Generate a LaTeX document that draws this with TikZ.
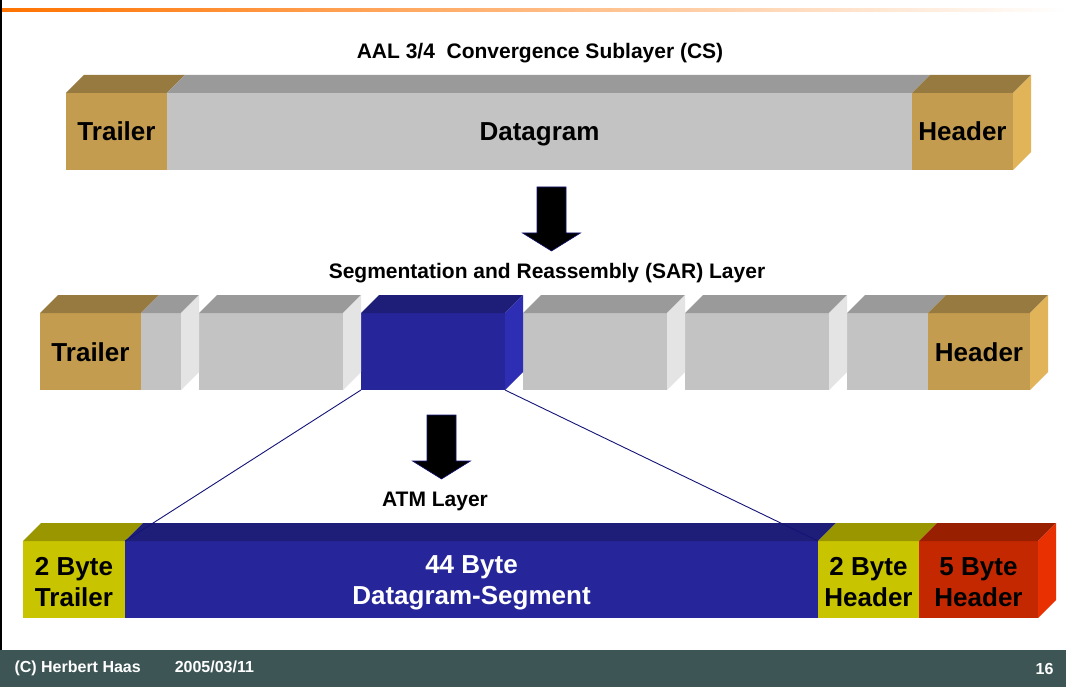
\documentclass[tikz,border=0pt]{standalone}
\usepackage{fontspec}
\setmainfont{Liberation Sans}
\usetikzlibrary{positioning}

\definecolor{tanfront}{RGB}{196,156,80}
\definecolor{tantop}{RGB}{150,122,64}
\definecolor{tanside}{RGB}{226,180,90}
\definecolor{grayfront}{RGB}{195,195,195}
\definecolor{graytop}{RGB}{154,154,154}
\definecolor{grayside}{RGB}{228,228,228}
\definecolor{bluefront}{RGB}{38,38,154}
\definecolor{bluetop}{RGB}{30,30,120}
\definecolor{blueside}{RGB}{46,46,180}
\definecolor{yelfront}{RGB}{200,196,0}
\definecolor{yeltop}{RGB}{154,150,0}
\definecolor{redfront}{RGB}{196,40,0}
\definecolor{redtop}{RGB}{152,32,0}
\definecolor{redside}{RGB}{232,48,0}
\definecolor{footbg}{RGB}{61,85,85}
\definecolor{navyline}{RGB}{20,20,120}

% top and right faces of a 3D block
\newcommand{\boxtop}[2]{\fill[#2] (#1.north west) -- ++(18,-18) -- ([shift={(18,-18)}]#1.north east) -- (#1.north east) -- cycle;}
\newcommand{\boxside}[2]{\fill[#2] (#1.north east) -- ++(18,-18) -- ++(0,77) -- (#1.south east) -- cycle;}
\newcommand{\lift}{\rule{0pt}{24pt}}

\begin{document}
\begin{tikzpicture}[
		x=1pt, y=-1pt,
		face/.style={inner sep=0pt, outer sep=0pt, minimum height=77pt, align=center, font=\fontsize{26}{31}\selectfont\bfseries},
		oneline/.style={text height=19pt, text depth=0pt},
		title/.style={font=\fontsize{21}{25}\selectfont\bfseries},
		seglink/.style={draw=navyline, line width=0.9pt}
	]
	\useasboundingbox (0,0) rectangle (1066,687);
	\fill[white] (0,0) rectangle (1066,687);

	% slide frame
	\shade[left color=orange!90!red, right color=white] (0,9) rectangle (1066,11.5);
	\draw[line width=1.2pt] (1,0) -- (1,650);
	\fill[footbg] (0,650) rectangle (1066,687);
	\node[anchor=west, text=white, font=\fontsize{16}{19}\selectfont\bfseries] (copy) at (11,668.5) {(C) Herbert Haas\hspace{34pt}2005/03/11};
	\node[anchor=east, text=white, font=\fontsize{16}{19}\selectfont\bfseries] (page) at (1057,668.5) {16};

	% CS
	\node[title] (cstitle) at (540,53) {AAL 3/4\ \ Convergence Sublayer (CS)};
	\node[face, oneline, fill=tanfront, minimum width=101pt] (trl1) at (116.5,131.5) {Trailer};
	\node[face, oneline, fill=grayfront, minimum width=745pt, right=0pt of trl1] (dg1) {Datagram};
	\node[face, oneline, fill=tanfront, minimum width=101pt, right=0pt of dg1] (hdr1) {Header};
	\boxtop{trl1}{tantop}
	\boxtop{dg1}{graytop}
	\boxtop{hdr1}{tantop}
	\boxside{hdr1}{tanside}

	% SAR
	\node[title] (sartitle) at (547,273) {Segmentation and Reassembly (SAR) Layer};
	\node[face, oneline, fill=tanfront, minimum width=101pt] (trl2) at (90.5,351.5) {Trailer};
	\node[face, fill=grayfront, minimum width=40pt, right=0pt of trl2] (g1) {};
	\node[face, fill=grayfront, minimum width=144pt, right=18pt of g1] (g2) {};
	\node[face, fill=bluefront, minimum width=144pt, right=18pt of g2] (seg) {};
	\node[face, fill=grayfront, minimum width=144pt, right=18pt of seg] (g3) {};
	\node[face, fill=grayfront, minimum width=144pt, right=18pt of g3] (g4) {};
	\node[face, fill=grayfront, minimum width=81pt, right=18pt of g4] (g5) {};
	\node[face, oneline, fill=tanfront, minimum width=102pt, right=0pt of g5] (hdr2) {Header};
	\boxtop{trl2}{tantop}
	\foreach \b in {g1,g2,g3,g4,g5}{
		\boxtop{\b}{graytop}
	}
	\foreach \b in {g1,g2,g3,g4}{
		\boxside{\b}{grayside}
	}
	\boxtop{seg}{bluetop}
	\boxside{seg}{blueside}
	\boxtop{hdr2}{tantop}
	\boxside{hdr2}{tanside}

	% ATM
	\node[title] (atmtitle) at (435,501) {ATM Layer};
	\node[face, fill=yelfront, minimum width=102pt] (trl3) at (74,579.5) {\lift 2 Byte\\Trailer};
	\node[face, fill=bluefront, text=white, minimum width=693pt, right=0pt of trl3] (dgseg) {\lift 44 Byte\\Datagram-Segment};
	\node[face, fill=yelfront, minimum width=101pt, right=0pt of dgseg] (hdr3) {\lift 2 Byte\\Header};
	\node[face, fill=redfront, minimum width=119pt, right=0pt of hdr3] (cell) {\lift 5 Byte\\Header};
	\boxtop{trl3}{yeltop}
	\boxtop{dgseg}{bluetop}
	\boxtop{hdr3}{yeltop}
	\boxtop{cell}{redtop}
	\boxside{cell}{redside}

	\draw[seglink] (seg.south west) -- (dgseg.north west);
	\draw[seglink] (seg.south east) -- (dgseg.north east);

	% block arrows
	\foreach \cx/\ty in {551.5/187, 441.5/415}{
		\filldraw[fill=black, draw=navyline, line width=0.6pt] (\cx-14.5,\ty) -- (\cx+14.5,\ty) -- (\cx+14.5,\ty+46) -- (\cx+29,\ty+46) -- (\cx,\ty+64) -- (\cx-29,\ty+46) -- (\cx-14.5,\ty+46) -- cycle;
	}
\end{tikzpicture}
\end{document}
